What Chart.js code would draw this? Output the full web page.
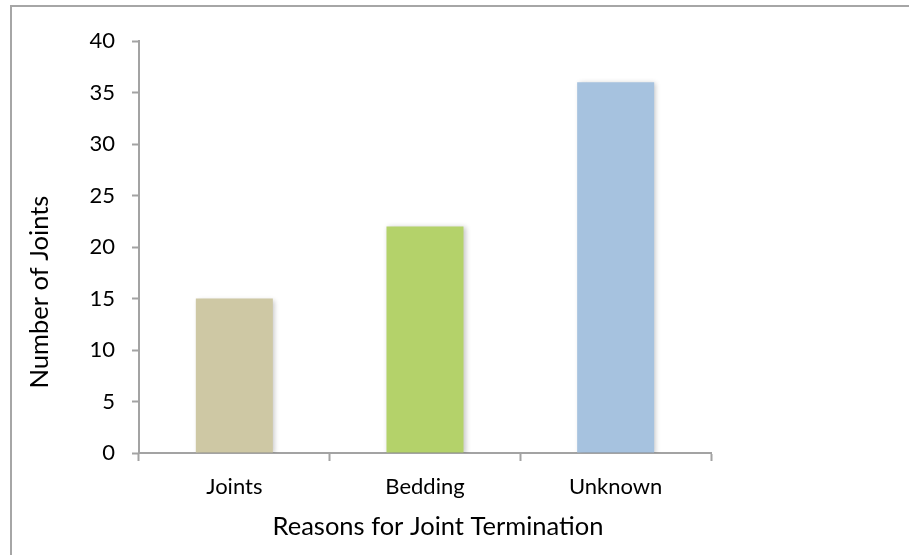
<!DOCTYPE html>
<html>
<head>
<meta charset="utf-8">
<script src="https://cdn.jsdelivr.net/npm/chart.js@4/dist/chart.umd.min.js"></script>
<style>
  html, body { margin: 0; padding: 0; background: #ffffff; }
  #wrap { position: relative; width: 909px; height: 555px; }
</style>
</head>
<body>
<div id="wrap"><canvas id="c" width="909" height="555"></canvas></div>
<script>
// Termination counts by reason
const categories = ['Joints', 'Bedding', 'Unknown'];
const jointCounts = [15, 22, 36];
const barColors = ['#CEC8A4', '#B4D26A', '#A6C2DF'];
const yTicks = [0, 5, 10, 15, 20, 25, 30, 35, 40];

const xTitle = 'Reasons for Joint Termination';
const yTitle = 'Number of Joints';

const FONT = 'Lato, "Open Sans", sans-serif';
const AXIS_GREY = '#a3a3a3';

// Frame around the chart plus the two axis titles
const framePlugin = {
  id: 'frame',
  afterDraw(chart) {
    const ctx = chart.ctx;
    ctx.save();
    ctx.strokeStyle = '#a6a6a6';
    ctx.lineWidth = 2;
    ctx.strokeRect(11, 6, 1000, 1000);

    ctx.fillStyle = '#000000';
    ctx.font = '25.5px ' + FONT;
    ctx.textAlign = 'center';
    ctx.textBaseline = 'middle';
    ctx.fillText(xTitle, 438, 527);

    ctx.translate(40, 292);
    ctx.rotate(-Math.PI / 2);
    ctx.fillText(yTitle, 0, 0);
    ctx.restore();
  }
};

// Soft drop shadow to the right of each bar
const shadowPlugin = {
  id: 'barShadow',
  beforeDatasetsDraw(chart) {
    const ctx = chart.ctx;
    ctx.save();
    ctx.shadowColor = 'rgba(0,0,0,0.22)';
    ctx.shadowBlur = 5;
    ctx.shadowOffsetX = 2;
    ctx.shadowOffsetY = 1;
  },
  afterDatasetsDraw(chart) {
    chart.ctx.restore();
  }
};

new Chart(document.getElementById('c'), {
  type: 'bar',
  data: {
    labels: categories,
    datasets: [{
      data: jointCounts,
      backgroundColor: barColors,
      borderWidth: 0,
      categoryPercentage: 0.404,
      barPercentage: 1.0
    }]
  },
  options: {
    responsive: false,
    animation: false,
    devicePixelRatio: 1,
    layout: { padding: { left: 0, right: 198, top: 41, bottom: 0 } },
    plugins: {
      legend: { display: false },
      tooltip: { enabled: false }
    },
    scales: {
      x: {
        afterFit(scale) { scale.height = 102; },
        grid: {
          display: true,
          drawOnChartArea: false,
          drawTicks: true,
          tickLength: 8,
          tickWidth: 2,
          color: AXIS_GREY,
          offset: true
        },
        border: { display: true, color: AXIS_GREY, width: 2 },
        ticks: {
          color: '#000000',
          padding: 13,
          font: { family: FONT, size: 22 }
        }
      },
      y: {
        min: 0,
        max: 40,
        afterFit(scale) { scale.width = 139; },
        afterBuildTicks(scale) { scale.ticks = yTicks.map(v => ({ value: v })); },
        grid: {
          display: true,
          drawOnChartArea: false,
          drawTicks: true,
          tickLength: 7,
          tickWidth: 2,
          color: AXIS_GREY
        },
        border: { display: true, color: AXIS_GREY, width: 2 },
        ticks: {
          color: '#000000',
          padding: 17,
          font: { family: FONT, size: 22 }
        }
      }
    }
  },
  plugins: [shadowPlugin, framePlugin]
});
</script>
</body>
</html>
